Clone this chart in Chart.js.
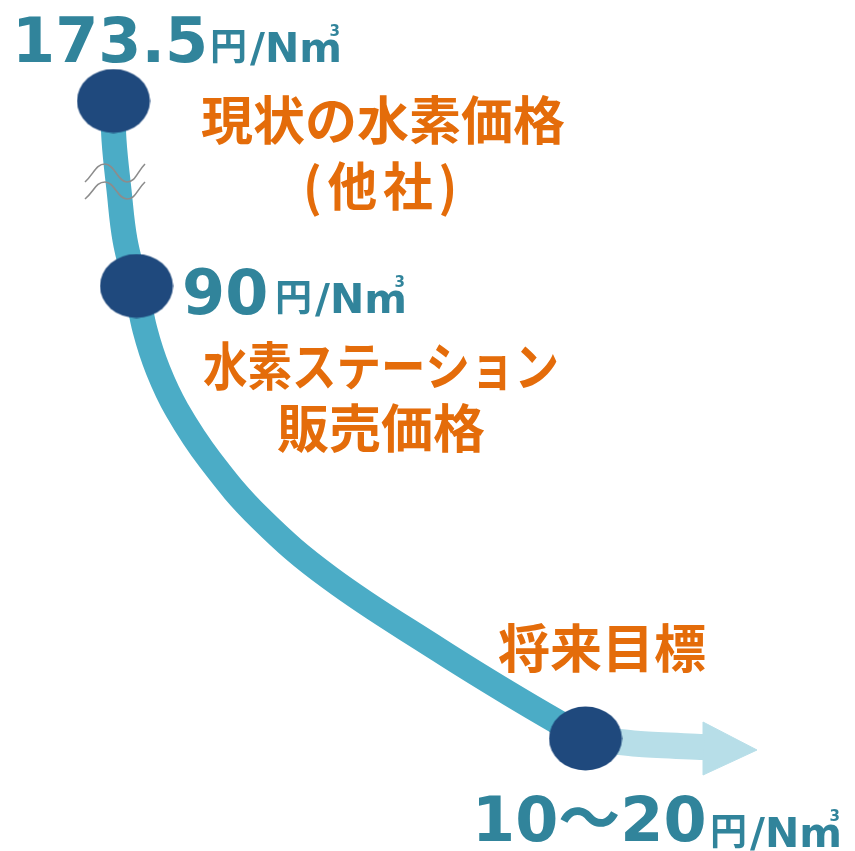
<!DOCTYPE html>
<html>
<head>
<meta charset="utf-8">
<script src="https://cdn.jsdelivr.net/npm/chart.js@4.4.1/dist/chart.umd.min.js"></script>
<style>
  html, body { margin: 0; padding: 0; background: #fff; }
  #wrap { width: 855px; height: 851px; }
</style>
</head>
<body>
<div id="wrap"><canvas id="priceChart" width="855" height="851"></canvas></div>
<script>
// price points (top to bottom) and their labels
const priceText = [['173.5'], ['90'], ['10', '～', '20']]
const unitText = '円'
const unitLatin = '/Nm'
const captions = [['現状の水素価格', '(他社)'], ['水素ステーション', '販売価格'], ['将来目標']]

// where each price sits on the drawing plane (page-like coordinates)
const dotX = [113.5, 136.5, 585.5]
const dotY = [101, 286, 738.5]

// the falling price curve
const curveX = [113, 114, 119, 125, 136, 145, 158, 177, 210, 260, 330, 439, 510, 585]
const curveY = [101, 140, 190, 240, 286, 330, 370, 410, 460, 518, 578, 650, 694, 738]

// light arrow after the target
const arrowX = [585, 640, 704]
const arrowY = [738, 744, 747]
const headX = [703, 757, 703, 703]
const headY = [722, 750, 775, 722]

// axis break marks (two waves)
const waveX = [85, 105, 127, 145]
const waveY1 = [182, 164, 182, 164]
const waveY2 = [199, 182, 199, 182]

const toPts = (xs, ys) => xs.map((v, i) => ({ x: v, y: ys[i] }))

// ellipse marker for the dots
function ellipseMarker(w, h, color) {
  const c = document.createElement('canvas')
  c.width = w
  c.height = h
  const g = c.getContext('2d')
  g.fillStyle = color
  g.beginPath()
  g.ellipse(w / 2, h / 2, w / 2 - 0.5, h / 2 - 0.5, 0, 0, Math.PI * 2)
  g.fill()
  return c
}
const dotMarker = ellipseMarker(74, 65, '#1F497D')

const TEAL = '#31849B'
const ORANGE = '#E46C0A'
const NUM_FONT = 'bold 62px "DejaVu Sans", Verdana, sans-serif'
const CJK_NUM_FONT = 'bold 62px "Noto Sans CJK JP", sans-serif'

// text labels, placed through the scales
const labelPlugin = {
  id: 'labels',
  afterDatasetsDraw(chart) {
    const { ctx, scales: { x, y } } = chart
    ctx.save()
    ctx.textAlign = 'left'
    ctx.textBaseline = 'alphabetic'

    // prices + units
    const numPos = [[12, 62], [182, 314], [472, 841]]
    const unitPos = [[212, 62], [277, 313], [712, 847]]
    priceText.forEach((parts, i) => {
      ctx.fillStyle = TEAL
      let px = x.getPixelForValue(numPos[i][0])
      const py = y.getPixelForValue(numPos[i][1])
      parts.forEach(p => {
        ctx.font = p === '～' ? CJK_NUM_FONT : NUM_FONT
        ctx.fillText(p, px, py)
        px += ctx.measureText(p).width
      })

      const ux = x.getPixelForValue(unitPos[i][0])
      const uy = y.getPixelForValue(unitPos[i][1])
      ctx.font = 'bold 37px "Noto Sans CJK JP", sans-serif'
      ctx.fillText(unitText, ux - 2, uy - 2)
      ctx.font = 'bold 41px "DejaVu Sans", Verdana, sans-serif'
      const sx = ux + 38
      ctx.fillText(unitLatin, sx, uy)
      const endX = sx + ctx.measureText(unitLatin).width - 2
      ctx.font = 'bold 15px "DejaVu Sans", sans-serif'
      ctx.textAlign = 'right'
      ctx.fillText('3', endX, uy - 26)
      ctx.textAlign = 'left'
    })

    // orange captions
    ctx.fillStyle = ORANGE
    ctx.textAlign = 'center'
    const capLines = [
      [383, 140, 52, 370, 0],
      [383, 206, 52, 160, 6],
      [381, 386, 52, 356, 0],
      [381, 448, 52, 216, 0],
      [602, 668, 52, 214, 0]
    ]
    const flat = captions.flat()
    flat.forEach((t, i) => {
      const [cx, cy, size, maxW, ls] = capLines[i]
      ctx.font = 'bold ' + size + 'px "Noto Sans CJK JP", sans-serif'
      ctx.letterSpacing = ls + 'px'
      ctx.fillText(t, x.getPixelForValue(cx), y.getPixelForValue(cy), maxW)
    })
    ctx.letterSpacing = '0px'
    ctx.restore()
  }
}

new Chart(document.getElementById('priceChart'), {
  type: 'line',
  data: {
    datasets: [
      {
        label: 'prices',
        data: toPts(dotX, dotY),
        showLine: false,
        pointStyle: dotMarker,
        pointRadius: 36,
        clip: false
      },
      {
        label: 'break1',
        data: toPts(waveX, waveY1),
        borderColor: '#8C8C8C',
        borderWidth: 1.6,
        tension: 0.45,
        pointRadius: 0,
        clip: false
      },
      {
        label: 'break2',
        data: toPts(waveX, waveY2),
        borderColor: '#8C8C8C',
        borderWidth: 1.6,
        tension: 0.45,
        pointRadius: 0,
        clip: false
      },
      {
        label: 'curve',
        data: toPts(curveX, curveY),
        borderColor: '#4BACC6',
        borderWidth: 25,
        tension: 0.4,
        pointRadius: 0,
        clip: false
      },
      {
        label: 'arrow',
        data: toPts(arrowX, arrowY),
        borderColor: '#B7DEE8',
        borderWidth: 26,
        borderCapStyle: 'butt',
        tension: 0.3,
        pointRadius: 0,
        clip: false
      },
      {
        label: 'head',
        data: toPts(headX, headY),
        borderColor: '#B7DEE8',
        backgroundColor: '#B7DEE8',
        borderWidth: 1,
        fill: 'shape',
        tension: 0,
        pointRadius: 0,
        clip: false
      }
    ]
  },
  options: {
    responsive: false,
    animation: false,
    layout: { padding: 0, autoPadding: false },
    scales: {
      x: { type: 'linear', min: 0, max: 855, display: false },
      y: { type: 'linear', min: 0, max: 851, reverse: true, display: false }
    },
    plugins: {
      legend: { display: false },
      tooltip: { enabled: false }
    }
  },
  plugins: [labelPlugin]
})
</script>
</body>
</html>
